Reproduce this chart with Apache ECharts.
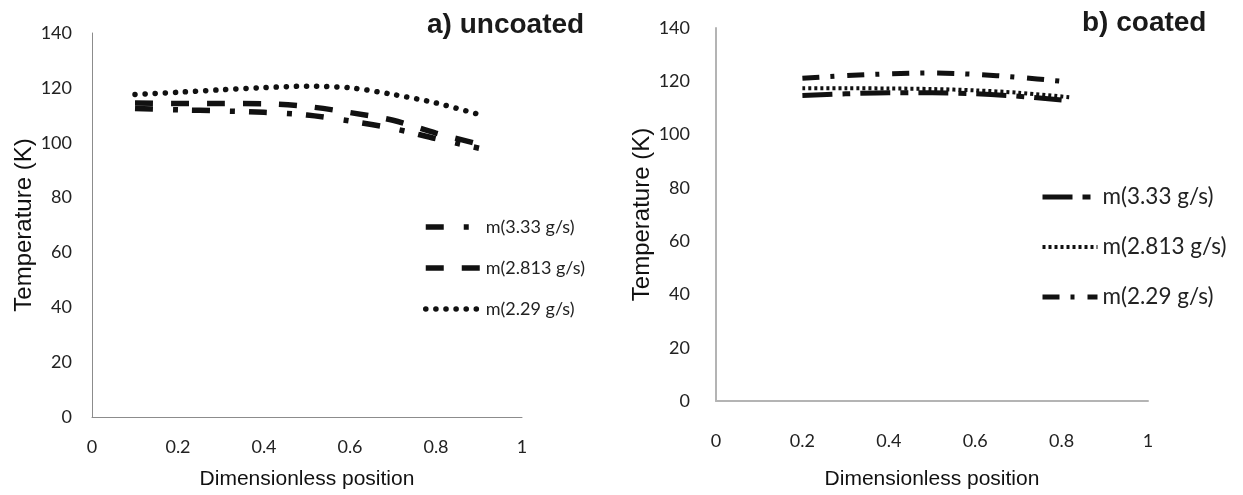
<!DOCTYPE html>
<html>
<head>
<meta charset="UTF-8">
<title>Temperature along the dimensionless position</title>
<script src="https://cdn.jsdelivr.net/npm/echarts@6/dist/echarts.min.js"></script>
<style>
    body { margin: 0; background: #fff; }
    #chart { width: 1243px; height: 495px; }
</style>
</head>
<body>
<div id="chart"></div>
<script>
// a) uncoated
var xUncoated = [0.1, 0.2, 0.3, 0.4, 0.5, 0.6, 0.7, 0.8, 0.9];
var uncoated333 = [112.5, 112.0, 111.6, 111.1, 110.1, 107.9, 105.2, 101.5, 98.0];
var uncoated2813 = [114.5, 114.3, 114.3, 114.2, 113.2, 111.0, 108.2, 103.5, 99.5];
var uncoated229 = [117.6, 118.4, 119.3, 120.1, 120.6, 120.0, 117.6, 114.5, 110.3];

// b) coated
var xCoated = [0.2, 0.3, 0.4, 0.5, 0.6, 0.7, 0.8];
var xCoated2813 = [0.2, 0.3, 0.4, 0.5, 0.6, 0.7, 0.82];
var coated333 = [114.7, 115.3, 115.7, 115.7, 115.3, 114.4, 113.0];
var coated2813 = [117.4, 117.4, 117.3, 117.1, 116.6, 115.7, 114.0];
var coated229 = [121.1, 122.1, 122.8, 123.1, 122.6, 121.5, 120.0];

var legendNames = ['m(3.33 g/s)', 'm(2.813 g/s)', 'm(2.29 g/s)'];
var xRange = [0, 1, 0.2];
var yRange = [0, 140, 20];

function pairs(xs, ys) {
    return xs.map(function (x, i) { return [x, ys[i]]; });
}

var ink = '#111';
var styles = {
    a: [
        {width: 5.5, type: [18, 20, 5, 14], cap: 'butt'},
        {width: 5.5, type: [18, 18], cap: 'butt'},
        {width: 5.5, type: [0.1, 10], cap: 'round'}
    ],
    b: [
        {width: 5, type: [30, 10, 8, 10], cap: 'butt'},
        {width: 4, type: [3, 3], cap: 'butt'},
        {width: 5, type: [17, 11, 4, 13], cap: 'butt'}
    ]
};

function lineSeries(prefix, idx, xs, ys, gridIdx) {
    var st = styles[prefix][idx];
    return {
        name: prefix + ' ' + legendNames[idx],
        type: 'line',
        xAxisIndex: gridIdx,
        yAxisIndex: gridIdx,
        data: pairs(xs, ys),
        smooth: 0.3,
        symbol: 'none',
        itemStyle: {color: ink},
        lineStyle: {color: ink, width: st.width, type: st.type, cap: st.cap}
    };
}

function legendData(prefix) {
    return legendNames.map(function (n, i) {
        var st = styles[prefix][i];
        return {
            name: prefix + ' ' + n,
            itemStyle: {color: 'rgba(0,0,0,0)', borderWidth: 0},
            lineStyle: {color: ink, width: st.width, type: st.type, cap: st.cap}
        };
    });
}

function xAxis(gridIdx, nameGap, labelMargin, lineColor, lineWidth) {
    return {
        gridIndex: gridIdx,
        type: 'value',
        min: xRange[0], max: xRange[1], interval: xRange[2],
        axisLine: {show: true, onZero: false, lineStyle: {color: lineColor, width: lineWidth}},
        axisTick: {show: false},
        splitLine: {show: false},
        axisLabel: {margin: labelMargin, fontFamily: 'Lato', fontSize: 18, color: '#222'},
        name: 'Dimensionless position',
        nameLocation: 'middle',
        nameGap: nameGap,
        nameTextStyle: {fontFamily: 'Liberation Sans', fontSize: 21, color: '#111'}
    };
}

function yAxis(gridIdx, nameGap, labelMargin, lineColor, lineWidth) {
    return {
        gridIndex: gridIdx,
        type: 'value',
        min: yRange[0], max: yRange[1], interval: yRange[2],
        axisLine: {show: true, onZero: false, lineStyle: {color: lineColor, width: lineWidth}},
        axisTick: {show: false},
        splitLine: {show: false},
        axisLabel: {margin: labelMargin, fontFamily: 'Lato', fontSize: 18, color: '#222'},
        name: 'Temperature (K)',
        nameLocation: 'middle',
        nameGap: nameGap,
        nameTextStyle: {fontFamily: 'Liberation Sans', fontSize: 24, color: '#111'}
    };
}

var chart = echarts.init(document.getElementById('chart'), null, {renderer: 'canvas'});

var option = {
    backgroundColor: '#fff',
    animation: false,
    title: [
        {text: 'a) uncoated', left: 427, top: 11, padding: 0,
            textStyle: {fontFamily: 'Liberation Sans', fontWeight: 'bold', fontSize: 28, color: '#1a1a1a'}},
        {text: 'b) coated', left: 1082, top: 9, padding: 0,
            textStyle: {fontFamily: 'Liberation Sans', fontWeight: 'bold', fontSize: 28, color: '#1a1a1a'}}
    ],
    grid: [
        {left: 92, top: 33, width: 430, height: 387},
        {left: 716, top: 28, width: 432, height: 376}
    ],
    xAxis: [
        xAxis(0, 52, 21, '#8c8c8c', 1),
        xAxis(1, 68, 31, '#b4b4b4', 2)
    ],
    yAxis: [
        yAxis(0, 46, 20, '#8c8c8c', 1),
        yAxis(1, 50, 26, '#b4b4b4', 2)
    ],
    legend: [
        {
            orient: 'vertical', left: 423, top: 216, padding: 0,
            itemWidth: 55, itemHeight: 14, itemGap: 19,
            selectedMode: false,
            data: legendData('a'),
            formatter: function (n) { return n.slice(2); },
            textStyle: {fontFamily: 'Lato', fontSize: 18, color: '#222', lineHeight: 22}
        },
        {
            orient: 'vertical', left: 1040, top: 184, padding: 0,
            itemWidth: 55, itemHeight: 14, itemGap: 24,
            selectedMode: false,
            data: legendData('b'),
            formatter: function (n) { return n.slice(2); },
            textStyle: {fontFamily: 'Lato', fontSize: 22.5, color: '#222', lineHeight: 26}
        }
    ],
    series: [
        lineSeries('a', 0, xUncoated, uncoated333, 0),
        lineSeries('a', 1, xUncoated, uncoated2813, 0),
        lineSeries('a', 2, xUncoated, uncoated229, 0),
        lineSeries('b', 0, xCoated, coated333, 1),
        lineSeries('b', 1, xCoated2813, coated2813, 1),
        lineSeries('b', 2, xCoated, coated229, 1)
    ]
};

chart.setOption(option);
</script>
</body>
</html>
